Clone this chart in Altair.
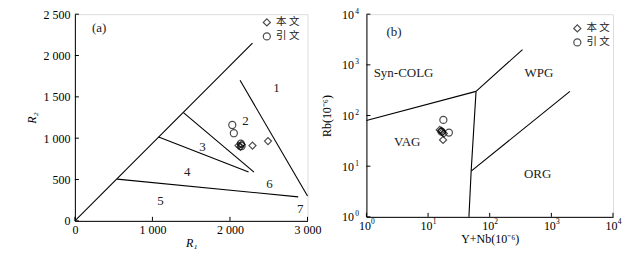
import altair as alt
import pandas as pd

# ---------------- data: panel (a) R1-R2 ----------------
a_this_r1 = [2110, 2135, 2150, 2290, 2490]
a_this_r2 = [910, 895, 925, 910, 965]
a_cite_r1 = [2030, 2050, 2140, 2150]
a_cite_r2 = [1160, 1060, 935, 905]

a_line_id = [0, 0, 1, 1, 2, 2, 3, 3, 4, 4]
a_line_x = [0, 2290, 2130, 3000, 1400, 2310, 1080, 2240, 545, 2880]
a_line_y = [0, 2150, 1700, 300, 1310, 590, 1015, 590, 505, 290]

a_lab_text = ["1", "2", "3", "4", "5", "6", "7", "(a)"]
a_lab_x = [2600, 2200, 1645, 1450, 1105, 2510, 2905, 312]
a_lab_y = [1605, 1210, 898, 596, 242, 451, 149, 2337]

a_xticks = [0, 1000, 2000, 3000]
a_yticks = [0, 500, 1000, 1500, 2000, 2500]

# ---------------- data: panel (b) Rb vs Y+Nb ----------------
b_this_x = [15.5, 16.5, 17.0, 18.0, 17.5]
b_this_y = [52, 50, 47, 44, 33]
b_cite_x = [17.7, 21.8, 16.5]
b_cite_y = [82, 46, 48]

b_line_id = [0, 0, 1, 1, 2, 2, 2, 3, 3]
b_line_x = [1, 60, 60, 340, 60, 50, 46, 50, 2000]
b_line_y = [80, 300, 300, 2000, 300, 8, 1, 8, 300]

b_lab_text = ["Syn-COLG", "WPG", "VAG", "ORG", "(b)"]
b_lab_x = [4.0, 630, 4.6, 600, 2.8]
b_lab_y = [700, 700, 29.5, 7, 4400]

b_ticks = [1, 10, 100, 1000, 10000]

src_names = ["本文", "引文"]

SERIF = "Liberation Serif"
CJK = "Noto Sans CJK SC"

# ---------------- tables ----------------
a_pts = pd.DataFrame({
    "x": a_this_r1 + a_cite_r1,
    "y": a_this_r2 + a_cite_r2,
    "src": [src_names[0]] * len(a_this_r1) + [src_names[1]] * len(a_cite_r1),
})
a_lines = pd.DataFrame({"id": a_line_id, "x": a_line_x, "y": a_line_y,
                        "o": list(range(len(a_line_x)))})
a_labs = pd.DataFrame({"t": a_lab_text, "x": a_lab_x, "y": a_lab_y})

b_pts = pd.DataFrame({
    "x": b_this_x + b_cite_x,
    "y": b_this_y + b_cite_y,
    "src": [src_names[0]] * len(b_this_x) + [src_names[1]] * len(b_cite_x),
})
b_lines = pd.DataFrame({"id": b_line_id, "x": b_line_x, "y": b_line_y,
                        "o": list(range(len(b_line_x)))})
b_labs = pd.DataFrame({"t": b_lab_text, "x": b_lab_x, "y": b_lab_y})

AW, AH = 233, 207
BW, BH = 247, 203

sx_a = alt.Scale(domain=[0, 3000], nice=False)
sy_a = alt.Scale(domain=[0, 2500], nice=False)
sx_b = alt.Scale(type="log", domain=[1, 10000], nice=False)
sy_b = alt.Scale(type="log", domain=[1, 10000], nice=False)

space_expr = "replace(format(datum.value, ','), ',', ' ')"
exp_expr = "format(round(log(datum.value)/LN10), 'd')"

axis_common = dict(ticks=False, grid=False, domainColor="black",
                   labelFont=SERIF, labelFontSize=12, labelColor="black",
                   titleFont=SERIF, titleFontSize=12, titleColor="black",
                   titleFontWeight="normal", labelFlush=False)

legend_label_expr = "substring(datum.label,0,1) + ' ' + substring(datum.label,1,2)"


def shape_enc(lx, ly):
    return alt.Shape(
        "src:N",
        scale=alt.Scale(domain=src_names, range=["diamond", "circle"]),
        legend=alt.Legend(title=None, orient="none", legendX=lx, legendY=ly,
                          labelFont=CJK, labelFontSize=10.5, labelColor="#222",
                          symbolSize=50, symbolStrokeColor="black",
                          symbolStrokeWidth=1.2, symbolFillColor="white",
                          rowPadding=1, labelOffset=4, padding=0,
                          labelExpr=legend_label_expr),
    )


# ---------------- panel (a) ----------------
a_base_x = alt.X("x:Q", scale=sx_a, title="R₁",
                 axis=alt.Axis(values=a_xticks, labelExpr=space_expr,
                               titleFontStyle="italic", titlePadding=2,
                               labelPadding=4, **axis_common))
a_base_y = alt.Y("y:Q", scale=sy_a, title="R₂",
                 axis=alt.Axis(values=a_yticks, labelExpr=space_expr,
                               titleFontStyle="italic", titlePadding=4,
                               labelPadding=5, **axis_common))

a_line_layer = alt.Chart(a_lines).mark_line(color="black", strokeWidth=1.1).encode(
    x=a_base_x, y=a_base_y, detail="id:N", order="o:Q")
a_text_layer = alt.Chart(a_labs).mark_text(font=SERIF, fontSize=13, color="#222").encode(
    x=alt.X("x:Q", scale=sx_a), y=alt.Y("y:Q", scale=sy_a), text="t:N")
a_pt_layer = alt.Chart(a_pts).mark_point(filled=False, color="black", size=50,
                                         strokeWidth=1.2).encode(
    x=alt.X("x:Q", scale=sx_a), y=alt.Y("y:Q", scale=sy_a),
    shape=shape_enc(187, 3))
a_xt = alt.Chart(pd.DataFrame({"v": a_xticks})).mark_rule(color="black").encode(
    x=alt.X("v:Q", scale=sx_a), y=alt.value(AH), y2=alt.value(AH - 4))
a_yt = alt.Chart(pd.DataFrame({"v": a_yticks})).mark_rule(color="black").encode(
    y=alt.Y("v:Q", scale=sy_a), x=alt.value(0), x2=alt.value(4))

panel_a = alt.layer(a_line_layer, a_xt, a_yt, a_text_layer, a_pt_layer).properties(
    width=AW, height=AH)

# ---------------- panel (b) ----------------
b_base_x = alt.X("x:Q", scale=sx_b, title="Y+Nb(10⁻⁶)",
                 axis=alt.Axis(values=b_ticks, labelExpr="'10'", orient="bottom",
                               labelPadding=4, labelOffset=-2,
                               titlePadding=2, **axis_common))
b_base_y = alt.Y("y:Q", scale=sy_b, title="Rb(10⁻⁶)",
                 axis=alt.Axis(values=b_ticks, labelExpr="'10'", orient="left",
                               labelPadding=13, titlePadding=8, **axis_common))

exp_common = dict(axis_common)
exp_common.update(labelFontSize=7.5)

b_line_layer = alt.Chart(b_lines).mark_line(color="black", strokeWidth=1.1).encode(
    x=b_base_x, y=b_base_y, detail="id:N", order="o:Q")
b_text_layer = alt.Chart(b_labs).mark_text(font=SERIF, fontSize=13, color="#222").encode(
    x=alt.X("x:Q", scale=sx_b, axis=None), y=alt.Y("y:Q", scale=sy_b, axis=None),
    text="t:N")
b_pt_layer = alt.Chart(b_pts).mark_point(filled=False, color="black", size=50,
                                         strokeWidth=1.2).encode(
    x=alt.X("x:Q", scale=sx_b, axis=None), y=alt.Y("y:Q", scale=sy_b, axis=None),
    shape=shape_enc(206, 9))
b_xt = alt.Chart(pd.DataFrame({"v": b_ticks})).mark_rule(color="black").encode(
    x=alt.X("v:Q", scale=sx_b, title=None,
            axis=alt.Axis(values=b_ticks, labelExpr=exp_expr, orient="bottom",
                          labelPadding=1, labelOffset=6, domain=False,
                          **exp_common)),
    y=alt.value(BH), y2=alt.value(BH - 4))
b_yt = alt.Chart(pd.DataFrame({"v": b_ticks})).mark_rule(color="black").encode(
    y=alt.Y("v:Q", scale=sy_b, title=None,
            axis=alt.Axis(values=b_ticks, labelExpr=exp_expr, orient="left",
                          labelPadding=8, labelOffset=-3, domain=False,
                          **exp_common)),
    x=alt.value(0), x2=alt.value(4))

panel_b = alt.layer(b_line_layer, b_xt, b_yt, b_text_layer, b_pt_layer).resolve_axis(
    x="independent", y="independent").properties(width=BW, height=BH)

chart = alt.hconcat(panel_a, panel_b, spacing=59, bounds="flush").resolve_scale(
    shape="independent").resolve_legend(shape="independent").properties(
    padding={"left": 17, "top": -2, "right": 0, "bottom": 0}
).configure_view(stroke="black", strokeWidth=1).configure(background="white")

chart.save("out.html", embed_options={"renderer": "svg", "actions": False})
